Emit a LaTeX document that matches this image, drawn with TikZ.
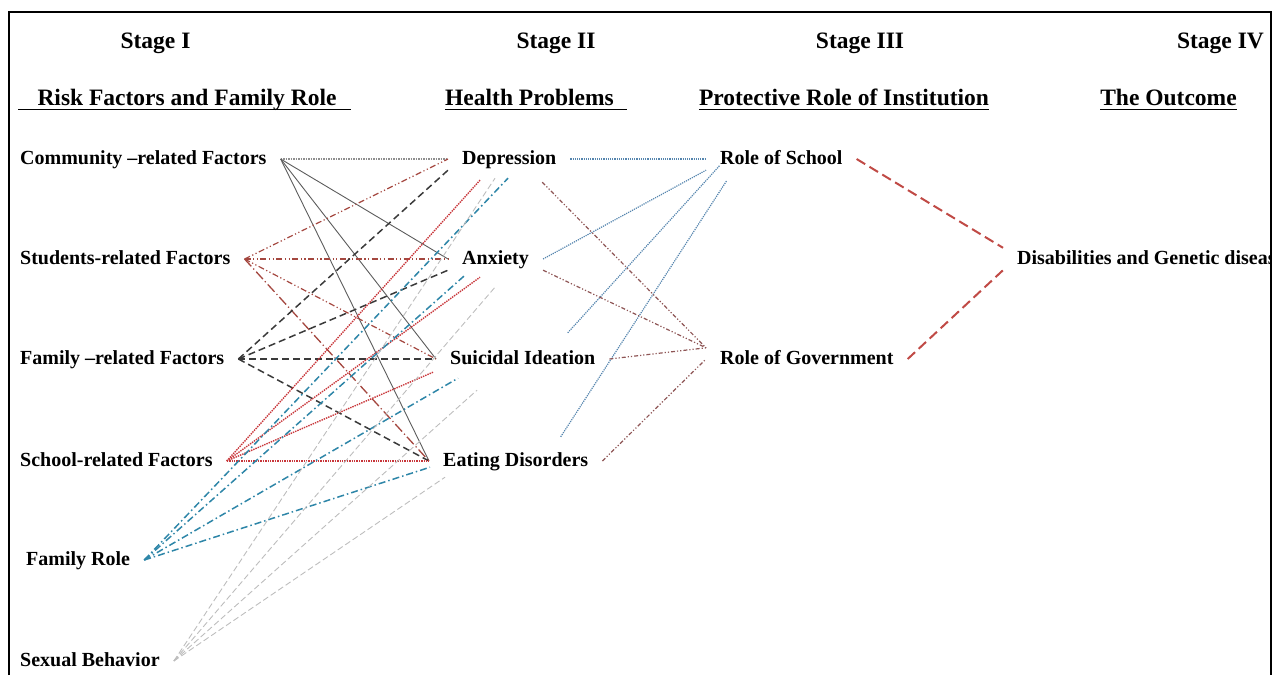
\documentclass[tikz,border=0pt]{standalone}
\usepackage{fontspec}
\setmainfont{Liberation Serif}
\usepackage{xcolor}
\definecolor{commgray}{HTML}{5C5C5C}
\definecolor{dotgray}{HTML}{8E8E8E}
\definecolor{studred}{HTML}{A4473F}
\definecolor{famblack}{HTML}{3A3A3A}
\definecolor{schred}{HTML}{C8363A}
\definecolor{roleblue}{HTML}{2E86A8}
\definecolor{sexgray}{HTML}{BDBDBD}
\definecolor{instblue}{HTML}{5585AE}
\definecolor{govbrown}{HTML}{8E5555}
\definecolor{outred}{HTML}{C04A45}

\begin{document}
\begin{tikzpicture}[
    x=1pt, y=-1pt,
    every node/.style={font=\fontsize{20}{24}\selectfont\bfseries,
      text height=14pt, text depth=4pt, inner xsep=14pt, inner ysep=2pt},
    item/.style={anchor=base west},
    head/.style={font=\fontsize{23.5}{28}\selectfont\bfseries, anchor=base,
      inner sep=0pt, text height=17pt, text depth=5pt},
    uline/.style={line width=1.6pt},
    commln/.style={draw=commgray, line width=0.9pt},
    commdep/.style={draw=dotgray, line width=1.5pt, densely dotted},
    studln/.style={draw=studred, line width=1.2pt,
      dash pattern=on 6pt off 2.5pt on 1.2pt off 2.5pt on 1.2pt off 2.5pt},
    studlong/.style={draw=studred, line width=1.3pt,
      dash pattern=on 10pt off 3pt on 1.2pt off 3pt},
    famln/.style={draw=famblack, line width=1.5pt, dash pattern=on 7pt off 4pt},
    schln/.style={draw=schred, line width=1.4pt, densely dotted},
    roleln/.style={draw=roleblue, line width=1.5pt,
      dash pattern=on 7pt off 3pt on 1.5pt off 3pt},
    sexln/.style={draw=sexgray, line width=0.9pt, dash pattern=on 6pt off 3pt},
    instln/.style={draw=instblue, line width=1.2pt, densely dotted},
    govln/.style={draw=govbrown, line width=1.2pt,
      dash pattern=on 4pt off 2pt on 1.2pt off 2pt on 1.2pt off 2pt},
    outln/.style={draw=outred, line width=2pt, dash pattern=on 10pt off 5pt},
]
\useasboundingbox (0,0) rectangle (1282,675);

% stage headings
\node[head] (st1) at (155.5,48) {Stage I};
\node[head] (st2) at (556,48) {Stage II};
\node[head] (st3) at (860,48) {Stage III};
\node[head] (st4) at (1220.5,48) {Stage IV};
\node[head] (risk) at (187,105) {Risk Factors and Family Role};
\node[head] (health) at (529.5,105) {Health Problems};
\node[head] (prot) at (844,105) {Protective Role of Institution};
\node[head] (outc) at (1168.5,105) {The Outcome};
\draw[uline] ([shift={(-19,4.5)}]risk.base west) -- ([shift={(14,4.5)}]risk.base east);
\draw[uline] ([shift={(0,4.5)}]health.base west) -- ([shift={(13,4.5)}]health.base east);
\draw[uline] ([shift={(0,4.5)}]prot.base west) -- ([shift={(0,4.5)}]prot.base east);
\draw[uline] ([shift={(0,4.5)}]outc.base west) -- ([shift={(0,4.5)}]outc.base east);

% Stage I
\node[item] (comm) at (6,164) {Community --related Factors};
\node[item] (stud) at (6,264) {Students-related Factors};
\node[item] (fam) at (6,364) {Family --related Factors};
\node[item] (school) at (6,466) {School-related Factors};
\node[item] (famrole) at (12,565) {Family Role};
\node[item] (sex) at (6,666) {Sexual Behavior};

% Stage II
\node[item] (dep) at (448,164) {Depression};
\node[item] (anx) at (448,264) {Anxiety};
\node[item] (sui) at (436,364) {Suicidal Ideation};
\node[item] (eat) at (429,466) {Eating Disorders};

% Stage III
\node[item] (rschool) at (706,164) {Role of School};
\node[item] (rgov) at (706,364) {Role of Government};

% Stage IV, cut by the frame
\begin{scope}
  \clip (0,0) rectangle (1269,675);
  \node[item] (dis) at (1003,264) {Disabilities and Genetic diseases};
\end{scope}

% links into the health problems
\draw[commdep] (comm.east) -- (dep.west);
\foreach \t in {anx,sui,eat}
  \draw[commln] (comm.east) -- (\t.west);
\foreach \t in {dep,anx,sui}
  \draw[studln] (stud.east) -- (\t.west);
\draw[studlong] (stud.east) -- (eat.west);
\foreach \t/\a in {dep/south west,anx/south west,sui/west,eat/west}
  \draw[famln] (fam.east) -- (\t.\a);
\foreach \t/\dx/\dy in {dep/32/10,anx/32/7,sui/-3/2}
  \draw[schln] (school.east) -- ([shift={(\dx,\dy)}]\t.south west);
\draw[schln] (school.east) -- (eat.west);
\foreach \t/\dx/\dy in {dep/60/8,anx/17/5,sui/22/8,eat/1/-5}
  \draw[roleln] (famrole.east) -- ([shift={(\dx,\dy)}]\t.south west);
\foreach \t/\dx/\dy in {dep/47/8,anx/47/17,sui/41/20,eat/16/5}
  \draw[sexln] (sex.east) -- ([shift={(\dx,\dy)}]\t.south west);

% links into the institutions
\draw[instln] (dep.east) -- (rschool.west);
\draw[instln] (anx.east) -- (rschool.south west);
\draw[instln] ([shift={(45,-15)}]sui.north) -- ([shift={(14,-5)}]rschool.south west);
\draw[instln] ([shift={(45,-13)}]eat.north) -- ([shift={(21,10)}]rschool.south west);
\draw[govln] ([shift={(33,12)}]dep.south) -- (rgov.north west);
\draw[govln] (anx.south east) -- (rgov.north west);
\draw[govln] (sui.east) -- (rgov.north west);
\draw[govln] (eat.east) -- (rgov.west);

% the outcome
\draw[outln] (rschool.east) -- (dis.north west);
\draw[outln] (rgov.east) -- (dis.south west);

% frame, open at the bottom
\draw[line width=2.5pt] (9,675) -- (9,12) -- (1271,12) -- (1271,675);
\end{tikzpicture}
\end{document}
